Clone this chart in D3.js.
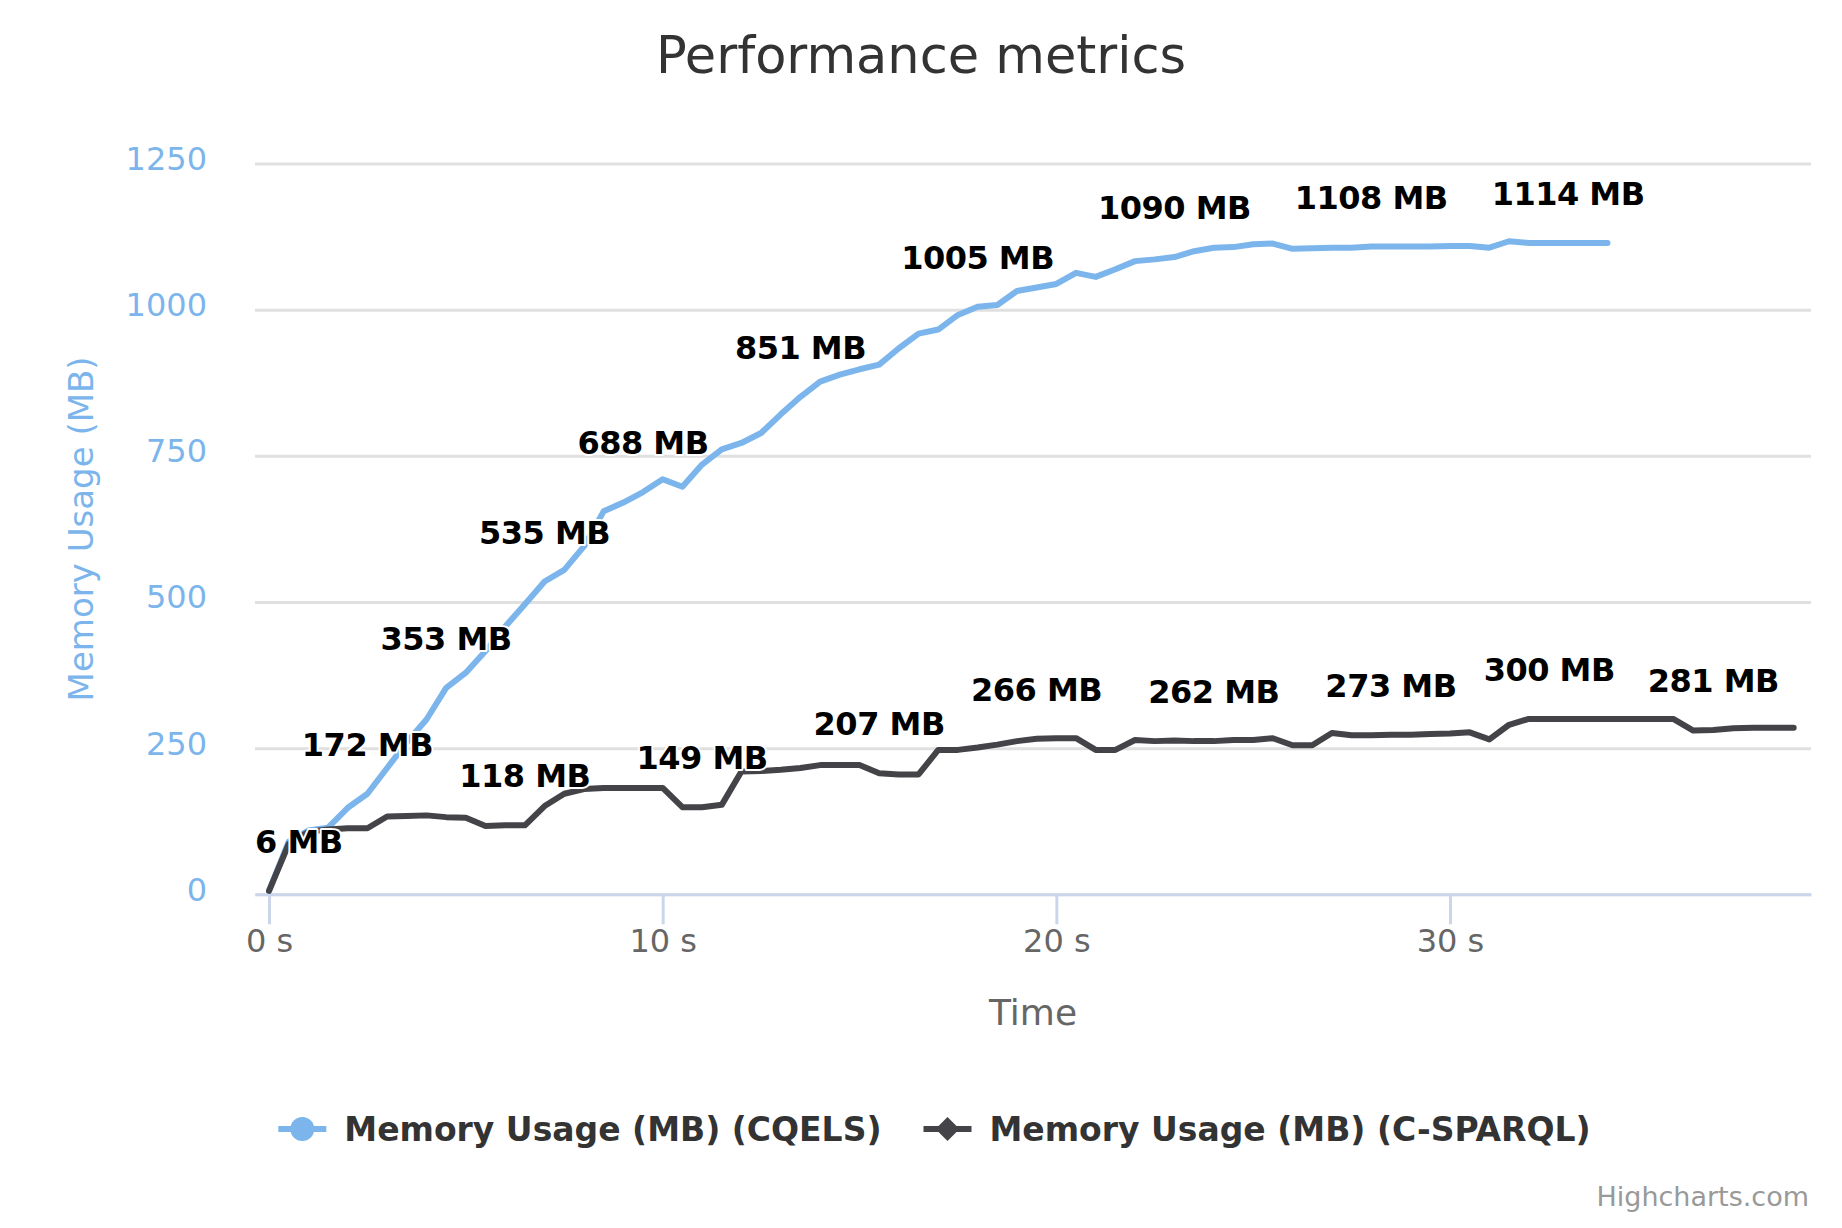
<!DOCTYPE html>
<html>
<head>
<meta charset="utf-8">
<script src="https://cdn.jsdelivr.net/npm/d3@7"></script>
<style>
  html, body { margin: 0; padding: 0; background: #ffffff; }
  svg { display: block; font-family: "DejaVu Sans", sans-serif; }
</style>
</head>
<body>
<svg id="chart" width="1842" height="1228"></svg>
<script>
// ---------------- data ----------------
const titleText = "Performance metrics";
const xTitle = "Time";
const yTitle = "Memory Usage (MB)";
const seriesNames = ["Memory Usage (MB) (CQELS)", "Memory Usage (MB) (C-SPARQL)"];
const xTickValues = [0, 10, 20, 30];
const yTickValues = [0, 250, 500, 750, 1000, 1250];

const timeGrid = [0,0.5,1,1.5,2,2.5,3,3.5,4,4.5,5,5.5,6,6.5,7,7.5,8,8.5,9,9.5,
  10,10.5,11,11.5,12,12.5,13,13.5,14,14.5,15,15.5,16,16.5,17,17.5,18,18.5,19,19.5,
  20,20.5,21,21.5,22,22.5,23,23.5,24,24.5,25,25.5,26,26.5,27,27.5,28,28.5,29,29.5,
  30,30.5,31,31.5,32,32.5,33,33.5,34];

const cqels = [6, 90, 109, 114, 148, 172, 216, 260, 299, 353,
  379, 416, 458, 496, 535, 555, 595, 655, 670, 688,
  710, 697, 735, 761, 772, 789, 821, 851, 877, 889,
  898, 906, 934, 959, 966, 991, 1005, 1008, 1032, 1038,
  1044, 1063, 1056, 1069, 1083, 1086, 1090, 1100, 1106, 1107,
  1112, 1113, 1104, 1105, 1106, 1106, 1108, 1108, 1108, 1108,
  1109, 1109, 1106, 1117, 1114, 1114, 1114, 1114, 1114];

const csparqlTailTimes = [32.52, 33.05, 33.57, 34.1, 34.62, 35.15, 35.67, 36.18, 36.69, 37.2, 37.71, 38.22, 38.73];

const csparql = [6, 86, 107, 111, 113, 113, 133, 134, 135, 132,
  131, 117, 118, 118, 151, 172, 180, 182, 182, 182,
  182, 149, 149, 153, 210, 211, 213, 216, 221, 221,
  221, 207, 205, 205, 247, 247, 251, 256, 262, 266,
  267, 267, 247, 247, 264, 262, 263, 262, 262, 264,
  264, 267, 255, 255, 276, 272, 272, 273, 273, 274,
  275, 277, 265, 290, 300, 300, 300, 300, 300, 300,
  300, 300, 280, 281, 284, 285, 285, 285];

// indices of points whose data labels are visible
const cqelsLabelIdx = [0, 5, 9, 14, 19, 27, 36, 46, 56, 66];
const csparqlLabelIdx = [13, 22, 31, 39, 48, 57, 65, 73];

const colors = ["#7cb5ec", "#434348"];

// ---------------- layout ----------------
const W = 1842, H = 1228;
const plot = { left: 255, right: 1811, top: 163.5, bottom: 894.3 };

const svg = d3.select("#chart");
svg.append("rect").attr("width", W).attr("height", H).attr("fill", "#ffffff");

const x = d3.scaleLinear().domain([-0.356, 39.17]).range([plot.left, plot.right]);
const y = d3.scaleLinear().domain([0, 1250]).range([plot.bottom, plot.top]);

// title
svg.append("text").attr("x", 921).attr("y", 73).attr("text-anchor", "middle")
  .attr("font-size", 51).attr("fill", "#333333").text(titleText);

// y axis (grid + labels)
const yAxisG = svg.append("g").attr("transform", `translate(${plot.left},0)`)
  .call(d3.axisLeft(y).tickValues(yTickValues).tickSize(-(plot.right - plot.left)).tickPadding(48).tickFormat(d => d));
yAxisG.select(".domain").remove();
yAxisG.selectAll(".tick line").attr("stroke", "#e0e0e0").attr("stroke-width", 3);
yAxisG.selectAll(".tick text").attr("fill", "#7cb5ec").attr("font-size", 32)
  .attr("font-family", "DejaVu Sans").attr("dy", "6px");

// x axis
const xAxisG = svg.append("g").attr("transform", `translate(0,${plot.bottom})`)
  .call(d3.axisBottom(x).tickValues(xTickValues).tickSize(30).tickSizeOuter(0).tickPadding(5).tickFormat(d => d + " s"));
xAxisG.select(".domain").attr("stroke", "#ccd6eb").attr("stroke-width", 3);
xAxisG.selectAll(".tick line").attr("stroke", "#ccd6eb").attr("stroke-width", 3);
xAxisG.selectAll(".tick text").attr("fill", "#666666").attr("font-size", 32)
  .attr("font-family", "DejaVu Sans");

// axis titles
svg.append("text").attr("x", (plot.left + plot.right) / 2).attr("y", 1025)
  .attr("text-anchor", "middle").attr("font-size", 36).attr("fill", "#666666").text(xTitle);
svg.append("text").attr("transform", `translate(93,${(plot.top + plot.bottom) / 2}) rotate(-90)`)
  .attr("text-anchor", "middle").attr("font-size", 34).attr("fill", "#7cb5ec").text(yTitle);

// series
const csparqlTimes = timeGrid.slice(0, 65).concat(csparqlTailTimes);
const series = [
  { name: seriesNames[0], t: timeGrid, v: cqels, color: colors[0], labels: cqelsLabelIdx },
  { name: seriesNames[1], t: csparqlTimes, v: csparql, color: colors[1], labels: csparqlLabelIdx }
];

const line = d3.line().x(d => x(d[0])).y(d => y(d[1]));
const linesG = svg.append("g");
series.forEach(s => {
  const pts = s.v.map((v, i) => [s.t[i], v]);
  linesG.append("path").attr("d", line(pts)).attr("fill", "none")
    .attr("stroke", s.color).attr("stroke-width", 6)
    .attr("stroke-linejoin", "round").attr("stroke-linecap", "round");
});

// data labels
const labelsG = svg.append("g");
series.forEach(s => {
  s.labels.forEach(i => {
    const px = x(s.t[i]), py = y(s.v[i]);
    const t = labelsG.append("text").attr("x", px).attr("y", py - 38)
      .attr("text-anchor", "middle").attr("font-size", 32).attr("font-weight", "bold")
      .attr("fill", "#000000").attr("stroke", "#ffffff").attr("stroke-width", 4)
      .attr("stroke-linejoin", "round").attr("paint-order", "stroke")
      .attr("letter-spacing", "-0.5px")
      .text(s.v[i] + " MB");
    const w = t.node().getComputedTextLength();
    if (px - w / 2 < plot.left) t.attr("x", plot.left + w / 2);
    if (px + w / 2 > plot.right) t.attr("x", plot.right - w / 2);
  });
});

// legend
const legendG = svg.append("g");
let cursor = 0;
series.forEach((s, k) => {
  const g = legendG.append("g").attr("transform", `translate(${cursor},0)`);
  g.append("line").attr("x1", 0).attr("x2", 48).attr("y1", 1129).attr("y2", 1129)
    .attr("stroke", s.color).attr("stroke-width", 6);
  if (k === 0) {
    g.append("circle").attr("cx", 24).attr("cy", 1129).attr("r", 12).attr("fill", s.color);
  } else {
    g.append("path").attr("d", "M24,1117L36,1129L24,1141L12,1129Z").attr("fill", s.color);
  }
  const t = g.append("text").attr("x", 66).attr("y", 1141).attr("font-size", 33)
    .attr("font-weight", "bold").attr("fill", "#333333").text(s.name);
  const w = t.node().getComputedTextLength();
  cursor += 66 + w + 42;
});
const legendW = cursor - 42;
legendG.attr("transform", `translate(${934.5 - legendW / 2},0)`);

// credits
svg.append("text").attr("x", 1809).attr("y", 1206).attr("text-anchor", "end")
  .attr("font-size", 27).attr("fill", "#999999").text("Highcharts.com");
</script>
</body>
</html>
